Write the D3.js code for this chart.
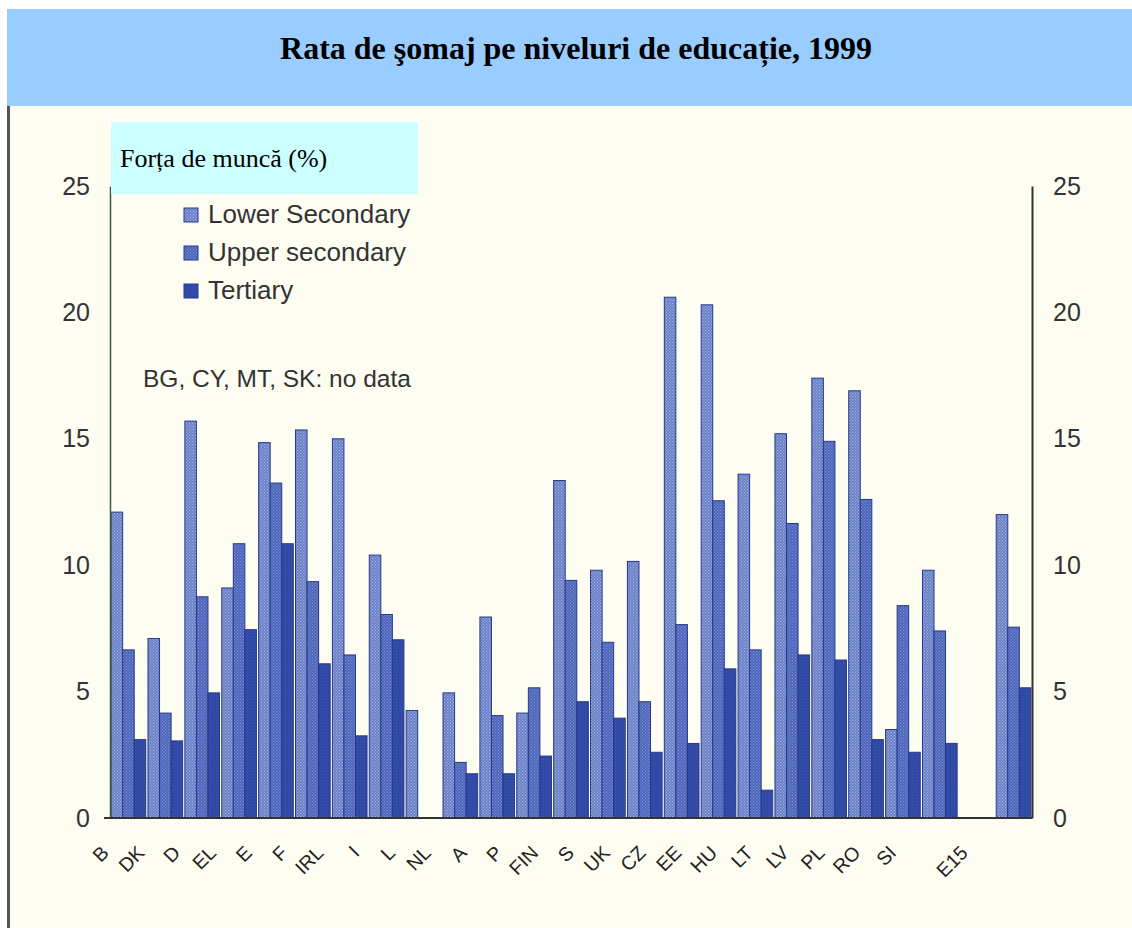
<!DOCTYPE html>
<html>
<head>
<meta charset="utf-8">
<script src="https://cdn.jsdelivr.net/npm/d3@7"></script>
<style>
  html, body { margin: 0; padding: 0; background: #ffffff; }
  svg { display: block; }
</style>
</head>
<body>
<svg id="chart" width="1132" height="928"></svg>
<script>
// ---- data ----
const categories = ["B","DK","D","EL","E","F","IRL","I","L","NL","A","P","FIN","S","UK","CZ","EE","HU","LT","LV","PL","RO","SI","","E15"];
const seriesNames = ["Lower Secondary","Upper secondary","Tertiary"];
const lowerSecondary = [12.1,7.1,15.7,9.1,14.85,15.35,15.0,10.4,4.25,4.95,7.95,4.15,13.35,9.8,10.15,20.6,20.3,13.6,15.2,17.4,16.9,3.5,9.8,null,12.0];
const upperSecondary = [6.65,4.15,8.75,10.85,13.25,9.35,6.45,8.05,null,2.2,4.05,5.15,9.4,6.95,4.6,7.65,12.55,6.65,11.65,14.9,12.6,8.4,7.4,null,7.55];
const tertiary = [3.1,3.05,4.95,7.45,10.85,6.1,3.25,7.05,null,1.75,1.75,2.45,4.6,3.95,2.6,2.95,5.9,1.1,6.45,6.25,3.1,2.6,2.95,null,5.15];
const yTicks = [0,5,10,15,20,25];
const titleText = "Rata de şomaj pe niveluri de educație, 1999";
const unitText = "Forța de muncă (%)";
const noteText = "BG, CY, MT, SK: no data";

const seriesValues = [lowerSecondary, upperSecondary, tertiary];

// ---- layout ----
const svg = d3.select("#chart");
const W = 1132, H = 928;
const plot = {left: 110, right: 1032, top: 186, bottom: 818};

// patterns (stippled print look)
const defs = svg.append("defs");
const patSpec = [
  {id: "p0", base: "#6c82c8", dot: "#a3b2e0"},
  {id: "p1", base: "#4e66bb", dot: "#7d90d0"},
  {id: "p2", base: "#2d47a4", dot: "#3e58b2"}
];
patSpec.forEach(p => {
  const pat = defs.append("pattern").attr("id", p.id).attr("patternUnits", "userSpaceOnUse")
    .attr("width", 3).attr("height", 3);
  pat.append("rect").attr("width", 3).attr("height", 3).attr("fill", p.base);
  pat.append("rect").attr("x", 0).attr("y", 0).attr("width", 1).attr("height", 1).attr("fill", p.dot);
  pat.append("rect").attr("x", 1.5).attr("y", 1.5).attr("width", 1).attr("height", 1).attr("fill", p.dot);
});

// background panel
svg.append("rect").attr("x", 7).attr("y", 9).attr("width", W - 7).attr("height", H - 9).attr("fill", "#fdfdf2");
// title banner
svg.append("rect").attr("x", 7).attr("y", 9).attr("width", W - 7).attr("height", 97).attr("fill", "#99ccff");
svg.append("text").attr("x", 576).attr("y", 59).attr("text-anchor", "middle")
  .attr("font-family", "'Liberation Serif', 'Times New Roman', serif").attr("font-weight", "bold")
  .attr("font-size", 32).attr("fill", "#000").text(titleText);
// left border line
svg.append("line").attr("x1", 8.5).attr("x2", 8.5).attr("y1", 106).attr("y2", H)
  .attr("stroke", "#555").attr("stroke-width", 3);

// ---- scales ----
const x = d3.scaleBand().domain(categories).range([plot.left, plot.right])
  .paddingInner(0.06).paddingOuter(0.03);
const xs = d3.scaleBand().domain(d3.range(seriesNames.length)).range([0, x.bandwidth()]).padding(0);
const y = d3.scaleLinear().domain([0, 25]).range([plot.bottom, plot.top]);
const xLabel = d3.scalePoint().domain(categories).range([110, 969]);

// ---- bars ----
const rows = [];
categories.forEach((c, i) => {
  seriesValues.forEach((arr, s) => {
    if (arr[i] != null) rows.push({cat: c, s: s, v: arr[i]});
  });
});
svg.append("g").selectAll("rect").data(rows).join("rect")
  .attr("x", d => x(d.cat) + xs(d.s))
  .attr("y", d => y(d.v))
  .attr("width", xs.bandwidth())
  .attr("height", d => y(0) - y(d.v))
  .attr("fill", d => `url(#p${d.s})`)
  .attr("stroke", "#26398c")
  .attr("stroke-width", 1);

// ---- axes ----
const tickFont = "'Liberation Sans', Arial, Helvetica, sans-serif";
const gL = svg.append("g").attr("transform", `translate(${plot.left},0)`)
  .call(d3.axisLeft(y).tickValues(yTicks).tickSize(0).tickPadding(20));
gL.select(".domain").attr("stroke", "#3b5a3b").attr("stroke-width", 1.5);
gL.selectAll("text").attr("font-family", tickFont).attr("font-size", 25).attr("fill", "#333");

const gR = svg.append("g").attr("transform", `translate(${plot.right},0)`)
  .call(d3.axisRight(y).tickValues(yTicks).tickSize(0).tickPadding(21));
gR.select(".domain").attr("stroke", "#333").attr("stroke-width", 2);
gR.selectAll("text").attr("font-family", tickFont).attr("font-size", 25).attr("fill", "#333");

// baseline
svg.append("line").attr("x1", 104).attr("x2", plot.right).attr("y1", y(0)).attr("y2", y(0))
  .attr("stroke", "#333").attr("stroke-width", 2);

// x labels (rotated)
svg.append("g").selectAll("text").data(categories.filter(c => c !== "")).join("text")
  .attr("transform", d => `translate(${xLabel(d)},854) rotate(-45)`)
  .attr("text-anchor", "end")
  .attr("font-family", tickFont).attr("font-size", 19.5).attr("fill", "#222")
  .text(d => d);

// unit box
svg.append("rect").attr("x", 111).attr("y", 122).attr("width", 307).attr("height", 72).attr("fill", "#ccffff");
svg.append("text").attr("x", 120).attr("y", 167)
  .attr("font-family", "'Liberation Serif', 'Times New Roman', serif").attr("font-size", 26)
  .attr("fill", "#000").text(unitText);

// legend
const leg = svg.append("g").selectAll("g").data(seriesNames).join("g")
  .attr("transform", (d, i) => `translate(184,${208 + i * 38})`);
leg.append("rect").attr("width", 14).attr("height", 14)
  .attr("fill", (d, i) => `url(#p${i})`).attr("stroke", "#26398c").attr("stroke-width", 1);
leg.append("text").attr("x", 24).attr("y", 15)
  .attr("font-family", tickFont).attr("font-size", 26).attr("fill", "#333").text(d => d);

// note
svg.append("text").attr("x", 143).attr("y", 387)
  .attr("font-family", tickFont).attr("font-size", 24.5).attr("fill", "#333").text(noteText);
</script>
</body>
</html>
